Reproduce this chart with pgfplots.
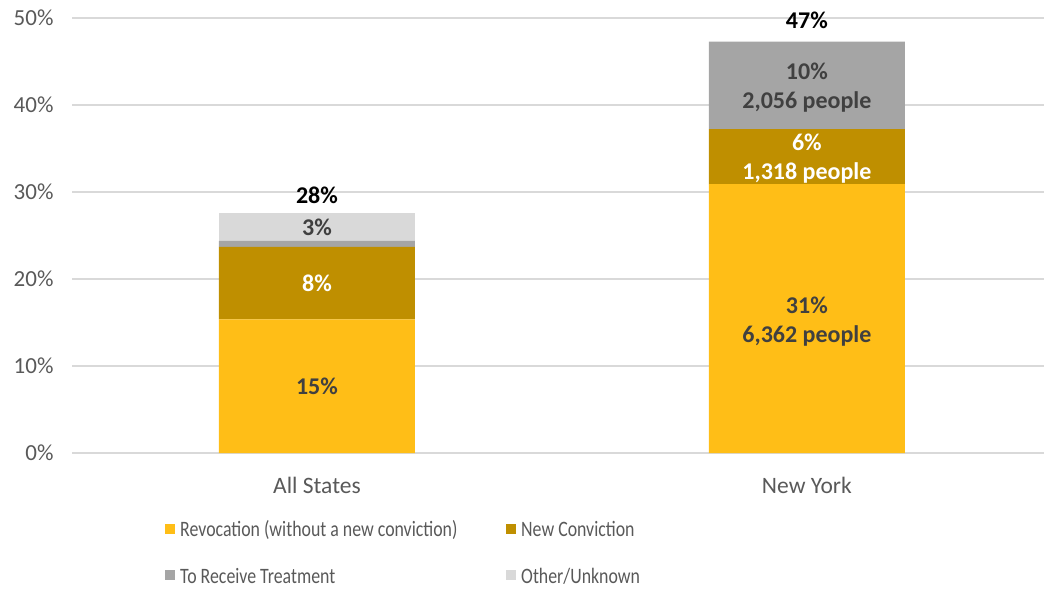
\documentclass[border=0pt]{standalone}
\usepackage{pgfplots}
\pgfplotsset{compat=1.18}
\usepackage{fontspec}
\setmainfont{Carlito}
\definecolor{revoc}{HTML}{FFBE17}
\definecolor{newconv}{HTML}{BF8F00}
\definecolor{treat}{HTML}{A5A5A5}
\definecolor{other}{HTML}{D9D9D9}
\definecolor{txt}{HTML}{595959}
\definecolor{lbl}{HTML}{404040}
\newcommand{\lfont}{\fontsize{24bp}{29bp}\selectfont\bfseries}
\newcommand{\legtext}[2]{\hspace{5bp}\makebox[#1][l]{\scalebox{0.81}[1]{#2}}\rule[-6bp]{0pt}{24bp}}
\begin{document}
\begin{tikzpicture}
\useasboundingbox (0,0) rectangle (1044bp,592bp);
\begin{axis}[
  at={(72bp,139bp)}, anchor=south west,
  scale only axis, width=972bp, height=435bp,
  xmin=-0.5, xmax=1.484, ymin=0, ymax=50,
  ybar stacked, bar width=0.4,
  clip=false,
  axis line style={draw=none},
  tick style={draw=none},
  ymajorgrids, grid style={color=other, line width=1.2bp},
  ytick={0,10,20,30,40,50},
  /pgf/number format/assume math mode=true,
  yticklabel={\pgfmathprintnumber{\tick}\%},
  yticklabel style={color=txt, font=\fontsize{23bp}{28bp}\selectfont, xshift=-15bp},
  xtick={0,1}, xticklabels={All States, New York},
  xticklabel style={color=txt, font=\fontsize{23.5bp}{28bp}\selectfont, yshift=-21bp},
  legend columns=2,
  legend image code/.code={\fill[#1] (0bp,-5bp) rectangle (10bp,5bp);},
  legend style={draw=none, fill=none, inner sep=0pt, column sep=0pt, row sep=27bp,
    font=\fontsize{22bp}{25bp}\selectfont, text=txt,
    nodes={inner xsep=0pt, inner ysep=0pt},
    at={(rel axis cs:0.0957,-0.151)}, anchor=north west},
]
\addplot[fill=revoc, draw=none] coordinates {(0,15.37) (1,30.90)};
\addplot[fill=newconv, draw=none] coordinates {(0,8.33) (1,6.34)};
\addplot[fill=treat, draw=none] coordinates {(0,0.67) (1,10.04)};
\addplot[fill=other, draw=none] coordinates {(0,3.22) (1,0)};
\legend{\legtext{326bp}{Revocation (without a new conviction)},\legtext{300bp}{New Conviction},\legtext{326bp}{To Receive Treatment},\legtext{300bp}{Other/Unknown}}
\coordinate (a1) at (axis cs:0,7.67);
\coordinate (a2) at (axis cs:0,19.50);
\coordinate (a3) at (axis cs:0,25.95);
\coordinate (a4) at (axis cs:0,29.62);
\coordinate (b1) at (axis cs:1,15.12);
\coordinate (b2) at (axis cs:1,33.83);
\coordinate (b3) at (axis cs:1,42.03);
\coordinate (b4) at (axis cs:1,49.74);
\end{axis}
\node[text=lbl, font=\lfont] at (a1) {15\%};
\node[text=white, font=\lfont] at (a2) {8\%};
\node[text=lbl, font=\lfont] at (a3) {3\%};
\node[text=black, font=\lfont] at (a4) {28\%};
\node[text=lbl, font=\lfont, align=center] at (b1) {31\%\\6,362 people};
\node[text=white, font=\lfont, align=center] at (b2) {6\%\\1,318 people};
\node[text=lbl, font=\lfont, align=center] at (b3) {10\%\\2,056 people};
\node[text=black, font=\lfont] at (b4) {47\%};
\end{tikzpicture}
\end{document}
